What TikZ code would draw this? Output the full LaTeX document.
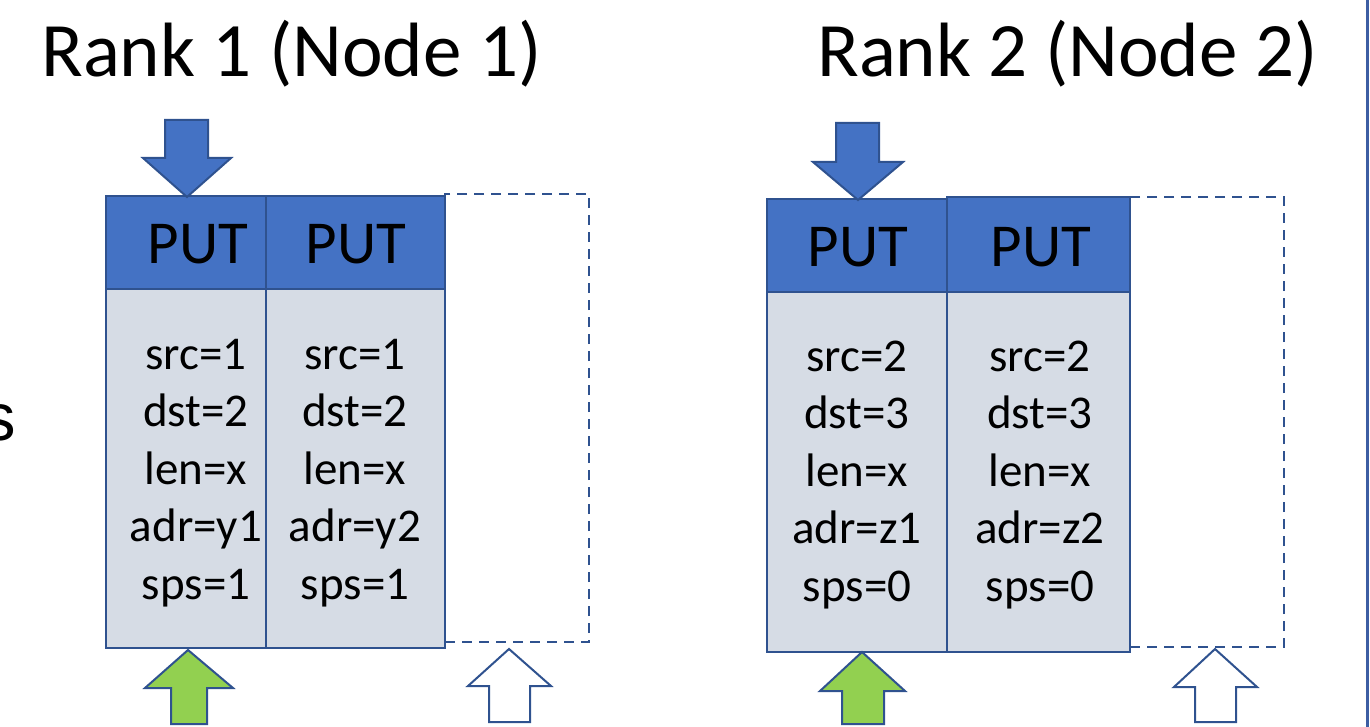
\documentclass[tikz,border=0pt]{standalone}
\usepackage{fontspec}
\setmainfont{Carlito}
\newfontfamily\sidefont{Liberation Sans}
\definecolor{hdrblue}{HTML}{4472C4}
\definecolor{boxline}{HTML}{2F528F}
\definecolor{bodygrey}{HTML}{D6DCE5}
\definecolor{putgreen}{HTML}{92D050}
\definecolor{rulecol}{HTML}{3D5EA3}
\begin{document}
\begin{tikzpicture}[x=1pt,y=-1pt,
  frame/.style={draw=boxline, line width=2.6pt, inner sep=0pt, outer sep=0pt, anchor=north west},
  hdr/.style={frame, fill=hdrblue},
  body/.style={frame, fill=bodygrey},
  slot/.style={draw=boxline, line width=2.8pt, dash pattern=on 10pt off 7pt, inner sep=0pt, outer sep=0pt, anchor=north west},
  puttext/.style={font=\fontsize{61}{73}\selectfont, anchor=base, inner sep=0pt},
  field/.style={font=\fontsize{47}{57}\selectfont, anchor=base, inner sep=0pt},
  title/.style={font=\fontsize{77}{92}\selectfont, anchor=base west, inner sep=0pt},
  blockarrow/.style={draw=boxline, line width=2pt, line join=miter},
]
\useasboundingbox (0,0) rectangle (1370,727);
\clip (0,0) rectangle (1370,727);

% titles
\node[title] (title1) at (41,77) {Rank 1 (Node 1)};
\node[title] (title2) at (817,77) {Rank 2 (Node 2)};

% letter cut by the left edge
\node[font=\sidefont\fontsize{67}{80}\selectfont, anchor=base west, inner sep=0pt] (sideletter) at (-18,440) {s};

% right separator rule
\draw[rulecol, line width=3pt] (1367,0) -- (1367,727);

% ---------- Rank 1 ----------
\node[slot, minimum width=144pt, minimum height=448pt] (slot1) at (445,194) {};
\node[body, minimum width=160pt, minimum height=359pt] (b11) at (106,289) {};
\node[body, minimum width=179pt, minimum height=359pt] (b12) at (266,289) {};
\node[hdr, minimum width=160pt, minimum height=93pt] (h11) at (106,196) {};
\node[hdr, minimum width=179pt, minimum height=93pt] (h12) at (266,196) {};
\node[puttext] (p11) at (198,264) {PUT};
\node[puttext] (p12) at (356,264) {PUT};
\foreach \t [count=\i from 0] in {{src=1},{dst=2},{len=x},{adr=y1},{sps=1}}
  \node[field] (f11-\i) at (196,{369+57.5*\i}) {\t};
\foreach \t [count=\i from 0] in {{src=1},{dst=2},{len=x},{adr=y2},{sps=1}}
  \node[field] (f12-\i) at (355,{369+57.5*\i}) {\t};

% ---------- Rank 2 ----------
\node[slot, minimum width=154pt, minimum height=450pt] (slot2) at (1130,197) {};
\node[body, minimum width=180pt, minimum height=360pt] (b21) at (767,292) {};
\node[body, minimum width=183pt, minimum height=360pt] (b22) at (947,292) {};
\node[hdr, minimum width=180pt, minimum height=93pt] (h21) at (767,199) {};
\node[hdr, minimum width=183pt, minimum height=95pt] (h22) at (947,197) {};
\node[puttext] (p21) at (858,267) {PUT};
\node[puttext] (p22) at (1041,267) {PUT};
\foreach \t [count=\i from 0] in {{src=2},{dst=3},{len=x},{adr=z1},{sps=0}}
  \node[field] (f21-\i) at (857,{371+57.5*\i}) {\t};
\foreach \t [count=\i from 0] in {{src=2},{dst=3},{len=x},{adr=z2},{sps=0}}
  \node[field] (f22-\i) at (1040,{371+57.5*\i}) {\t};

% ---------- block arrows ----------
% incoming (down) arrows
\draw[blockarrow, fill=hdrblue] (165,120) -- (208,120) -- (208,158) -- (231,158) -- (187,197) -- (143,158) -- (165,158) -- cycle;
\draw[blockarrow, fill=hdrblue] (836,123) -- (879,123) -- (879,162) -- (903,162) -- (858,200) -- (813,162) -- (836,162) -- cycle;
% filled (up) arrows
\draw[blockarrow, fill=putgreen] (171,724) -- (207,724) -- (207,688) -- (233,688) -- (188,650) -- (145,688) -- (171,688) -- cycle;
\draw[blockarrow, fill=putgreen] (842,724) -- (884,724) -- (884,691) -- (905,691) -- (862,652) -- (820,691) -- (842,691) -- cycle;
% empty (up) arrows
\draw[blockarrow, fill=white] (489,722) -- (530,722) -- (530,686) -- (551,686) -- (509,649) -- (468,686) -- (489,686) -- cycle;
\draw[blockarrow, fill=white] (1195,722) -- (1236,722) -- (1236,687) -- (1257,687) -- (1215,649) -- (1174,687) -- (1195,687) -- cycle;
\end{tikzpicture}
\end{document}
